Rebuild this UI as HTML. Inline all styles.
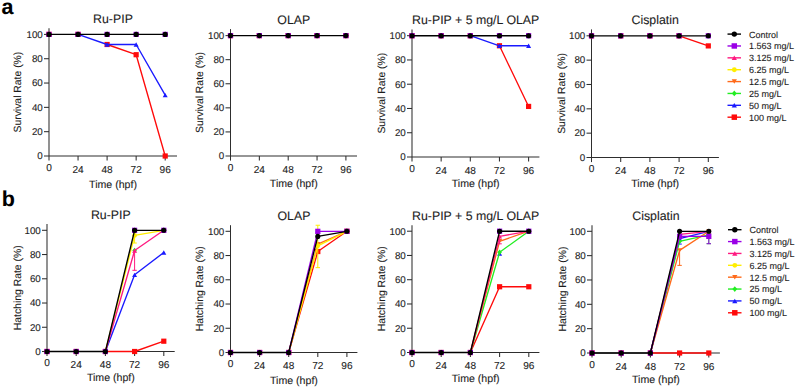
<!DOCTYPE html>
<html><head><meta charset="utf-8"><title>Survival and hatching rates</title>
<style>
html,body{margin:0;padding:0;background:#fff;}
body{width:798px;height:388px;overflow:hidden;}
svg{display:block;font-family:"Liberation Sans", sans-serif;text-rendering:geometricPrecision;}
text{stroke:#1c1c1c;stroke-width:0.1px;paint-order:stroke;}
</style></head>
<body>
<svg width="798" height="388" viewBox="0 0 798 388">
<rect width="798" height="388" fill="#fff"/>
<text x="1.5" y="13.7" font-size="21.5" font-weight="bold" fill="#000">a</text>
<text x="1.8" y="206.2" font-size="21.5" font-weight="bold" fill="#000">b</text>
<g stroke="#2e2e2e" stroke-width="1.05" fill="none">
<line x1="49.00" y1="28.20" x2="49.00" y2="160.60"/>
<line x1="44.00" y1="156.00" x2="177.00" y2="156.00"/>
<line x1="44.00" y1="131.68" x2="49.00" y2="131.68"/>
<line x1="44.00" y1="107.36" x2="49.00" y2="107.36"/>
<line x1="44.00" y1="83.04" x2="49.00" y2="83.04"/>
<line x1="44.00" y1="58.72" x2="49.00" y2="58.72"/>
<line x1="44.00" y1="34.40" x2="49.00" y2="34.40"/>
<line x1="78.05" y1="156.00" x2="78.05" y2="160.60"/>
<line x1="107.10" y1="156.00" x2="107.10" y2="160.60"/>
<line x1="136.15" y1="156.00" x2="136.15" y2="160.60"/>
<line x1="165.20" y1="156.00" x2="165.20" y2="160.60"/>
</g>
<g font-size="9.8" fill="#1c1c1c" text-anchor="end">
<text x="42.80" y="159.30">0</text>
<text x="42.80" y="134.98">20</text>
<text x="42.80" y="110.66">40</text>
<text x="42.80" y="86.34">60</text>
<text x="42.80" y="62.02">80</text>
<text x="42.80" y="37.70">100</text>
</g>
<g font-size="10.1" fill="#1c1c1c" text-anchor="middle">
<text x="49.00" y="170.70">0</text>
<text x="78.05" y="172.60">24</text>
<text x="107.10" y="172.60">48</text>
<text x="136.15" y="172.60">72</text>
<text x="165.20" y="172.60">96</text>
</g>
<text x="113.00" y="187.60" font-size="10.6" fill="#1c1c1c" text-anchor="middle">Time (hpf)</text>
<text transform="translate(21.00,92.10) rotate(-90)" font-size="10.4" fill="#1c1c1c" text-anchor="middle">Survival Rate (%)</text>
<text x="113.00" y="23.20" font-size="12.35" fill="#1c1c1c" text-anchor="middle">Ru-PIP</text>
<polyline points="107.10,44.49 136.15,54.71 165.20,156.00" fill="none" stroke="#ff0a0a" stroke-width="1.35" stroke-linejoin="round" stroke-linecap="round"/>
<rect x="46.40" y="31.80" width="5.20" height="5.20" fill="#ff0a0a"/>
<rect x="75.45" y="31.80" width="5.20" height="5.20" fill="#ff0a0a"/>
<rect x="104.50" y="41.89" width="5.20" height="5.20" fill="#ff0a0a"/>
<rect x="133.55" y="52.11" width="5.20" height="5.20" fill="#ff0a0a"/>
<rect x="162.60" y="153.40" width="5.20" height="5.20" fill="#ff0a0a"/>
<polyline points="78.05,34.40 107.10,44.49 136.15,44.49 165.20,95.20" fill="none" stroke="#1a1aff" stroke-width="1.35" stroke-linejoin="round" stroke-linecap="round"/>
<polygon points="49.00,32.25 51.50,36.55 46.50,36.55" fill="#1a1aff"/>
<polygon points="78.05,32.25 80.55,36.55 75.55,36.55" fill="#1a1aff"/>
<polygon points="107.10,42.34 109.60,46.64 104.60,46.64" fill="#1a1aff"/>
<polygon points="136.15,42.34 138.65,46.64 133.65,46.64" fill="#1a1aff"/>
<polygon points="165.20,93.05 167.70,97.35 162.70,97.35" fill="#1a1aff"/>
<polygon points="49.00,31.70 51.30,34.40 49.00,37.10 46.70,34.40" fill="#22ee22"/>
<polygon points="78.05,31.70 80.34,34.40 78.05,37.10 75.75,34.40" fill="#22ee22"/>
<polygon points="107.10,31.70 109.39,34.40 107.10,37.10 104.80,34.40" fill="#22ee22"/>
<polygon points="136.15,31.70 138.44,34.40 136.15,37.10 133.86,34.40" fill="#22ee22"/>
<polygon points="165.20,31.70 167.49,34.40 165.20,37.10 162.91,34.40" fill="#22ee22"/>
<polygon points="49.00,36.55 51.50,32.25 46.50,32.25" fill="#ff6a1a"/>
<polygon points="78.05,36.55 80.55,32.25 75.55,32.25" fill="#ff6a1a"/>
<polygon points="107.10,36.55 109.60,32.25 104.60,32.25" fill="#ff6a1a"/>
<polygon points="136.15,36.55 138.65,32.25 133.65,32.25" fill="#ff6a1a"/>
<polygon points="165.20,36.55 167.70,32.25 162.70,32.25" fill="#ff6a1a"/>
<circle cx="49.00" cy="34.40" r="2.30" fill="#ffee00"/>
<circle cx="78.05" cy="34.40" r="2.30" fill="#ffee00"/>
<circle cx="107.10" cy="34.40" r="2.30" fill="#ffee00"/>
<circle cx="136.15" cy="34.40" r="2.30" fill="#ffee00"/>
<circle cx="165.20" cy="34.40" r="2.30" fill="#ffee00"/>
<polygon points="49.00,32.25 51.50,36.55 46.50,36.55" fill="#ff1a80"/>
<polygon points="78.05,32.25 80.55,36.55 75.55,36.55" fill="#ff1a80"/>
<polygon points="107.10,32.25 109.60,36.55 104.60,36.55" fill="#ff1a80"/>
<polygon points="136.15,32.25 138.65,36.55 133.65,36.55" fill="#ff1a80"/>
<polygon points="165.20,32.25 167.70,36.55 162.70,36.55" fill="#ff1a80"/>
<rect x="46.40" y="31.80" width="5.20" height="5.20" fill="#9a00e6"/>
<rect x="75.45" y="31.80" width="5.20" height="5.20" fill="#9a00e6"/>
<rect x="104.50" y="31.80" width="5.20" height="5.20" fill="#9a00e6"/>
<rect x="133.55" y="31.80" width="5.20" height="5.20" fill="#9a00e6"/>
<rect x="162.60" y="31.80" width="5.20" height="5.20" fill="#9a00e6"/>
<polyline points="49.00,34.40 78.05,34.40 107.10,34.40 136.15,34.40 165.20,34.40" fill="none" stroke="#000000" stroke-width="1.35" stroke-linejoin="round" stroke-linecap="round"/>
<circle cx="49.00" cy="34.40" r="2.55" fill="#000000"/>
<circle cx="78.05" cy="34.40" r="2.55" fill="#000000"/>
<circle cx="107.10" cy="34.40" r="2.55" fill="#000000"/>
<circle cx="136.15" cy="34.40" r="2.55" fill="#000000"/>
<circle cx="165.20" cy="34.40" r="2.55" fill="#000000"/>
<g stroke="#2e2e2e" stroke-width="1.05" fill="none">
<line x1="230.50" y1="29.10" x2="230.50" y2="160.60"/>
<line x1="225.50" y1="156.00" x2="357.00" y2="156.00"/>
<line x1="225.50" y1="131.92" x2="230.50" y2="131.92"/>
<line x1="225.50" y1="107.84" x2="230.50" y2="107.84"/>
<line x1="225.50" y1="83.76" x2="230.50" y2="83.76"/>
<line x1="225.50" y1="59.68" x2="230.50" y2="59.68"/>
<line x1="225.50" y1="35.60" x2="230.50" y2="35.60"/>
<line x1="259.35" y1="156.00" x2="259.35" y2="160.60"/>
<line x1="288.20" y1="156.00" x2="288.20" y2="160.60"/>
<line x1="317.05" y1="156.00" x2="317.05" y2="160.60"/>
<line x1="345.90" y1="156.00" x2="345.90" y2="160.60"/>
</g>
<g font-size="9.8" fill="#1c1c1c" text-anchor="end">
<text x="224.30" y="159.30">0</text>
<text x="224.30" y="135.22">20</text>
<text x="224.30" y="111.14">40</text>
<text x="224.30" y="87.06">60</text>
<text x="224.30" y="62.98">80</text>
<text x="224.30" y="38.90">100</text>
</g>
<g font-size="10.1" fill="#1c1c1c" text-anchor="middle">
<text x="230.50" y="170.70">0</text>
<text x="259.35" y="172.60">24</text>
<text x="288.20" y="172.60">48</text>
<text x="317.05" y="172.60">72</text>
<text x="345.90" y="172.60">96</text>
</g>
<text x="293.75" y="186.90" font-size="10.6" fill="#1c1c1c" text-anchor="middle">Time (hpf)</text>
<text transform="translate(202.80,92.55) rotate(-90)" font-size="10.4" fill="#1c1c1c" text-anchor="middle">Survival Rate (%)</text>
<text x="293.75" y="24.20" font-size="12.35" fill="#1c1c1c" text-anchor="middle">OLAP</text>
<rect x="227.90" y="33.00" width="5.20" height="5.20" fill="#ff0a0a"/>
<rect x="256.75" y="33.00" width="5.20" height="5.20" fill="#ff0a0a"/>
<rect x="285.60" y="33.00" width="5.20" height="5.20" fill="#ff0a0a"/>
<rect x="314.45" y="33.00" width="5.20" height="5.20" fill="#ff0a0a"/>
<rect x="343.30" y="33.00" width="5.20" height="5.20" fill="#ff0a0a"/>
<polygon points="230.50,33.45 233.00,37.75 228.00,37.75" fill="#1a1aff"/>
<polygon points="259.35,33.45 261.85,37.75 256.85,37.75" fill="#1a1aff"/>
<polygon points="288.20,33.45 290.70,37.75 285.70,37.75" fill="#1a1aff"/>
<polygon points="317.05,33.45 319.55,37.75 314.55,37.75" fill="#1a1aff"/>
<polygon points="345.90,33.45 348.40,37.75 343.40,37.75" fill="#1a1aff"/>
<polygon points="230.50,32.90 232.79,35.60 230.50,38.30 228.21,35.60" fill="#22ee22"/>
<polygon points="259.35,32.90 261.65,35.60 259.35,38.30 257.06,35.60" fill="#22ee22"/>
<polygon points="288.20,32.90 290.50,35.60 288.20,38.30 285.90,35.60" fill="#22ee22"/>
<polygon points="317.05,32.90 319.35,35.60 317.05,38.30 314.75,35.60" fill="#22ee22"/>
<polygon points="345.90,32.90 348.19,35.60 345.90,38.30 343.60,35.60" fill="#22ee22"/>
<polygon points="230.50,37.75 233.00,33.45 228.00,33.45" fill="#ff6a1a"/>
<polygon points="259.35,37.75 261.85,33.45 256.85,33.45" fill="#ff6a1a"/>
<polygon points="288.20,37.75 290.70,33.45 285.70,33.45" fill="#ff6a1a"/>
<polygon points="317.05,37.75 319.55,33.45 314.55,33.45" fill="#ff6a1a"/>
<polygon points="345.90,37.75 348.40,33.45 343.40,33.45" fill="#ff6a1a"/>
<circle cx="230.50" cy="35.60" r="2.30" fill="#ffee00"/>
<circle cx="259.35" cy="35.60" r="2.30" fill="#ffee00"/>
<circle cx="288.20" cy="35.60" r="2.30" fill="#ffee00"/>
<circle cx="317.05" cy="35.60" r="2.30" fill="#ffee00"/>
<circle cx="345.90" cy="35.60" r="2.30" fill="#ffee00"/>
<polygon points="230.50,33.45 233.00,37.75 228.00,37.75" fill="#ff1a80"/>
<polygon points="259.35,33.45 261.85,37.75 256.85,37.75" fill="#ff1a80"/>
<polygon points="288.20,33.45 290.70,37.75 285.70,37.75" fill="#ff1a80"/>
<polygon points="317.05,33.45 319.55,37.75 314.55,37.75" fill="#ff1a80"/>
<polygon points="345.90,33.45 348.40,37.75 343.40,37.75" fill="#ff1a80"/>
<rect x="227.90" y="33.00" width="5.20" height="5.20" fill="#9a00e6"/>
<rect x="256.75" y="33.00" width="5.20" height="5.20" fill="#9a00e6"/>
<rect x="285.60" y="33.00" width="5.20" height="5.20" fill="#9a00e6"/>
<rect x="314.45" y="33.00" width="5.20" height="5.20" fill="#9a00e6"/>
<rect x="343.30" y="33.00" width="5.20" height="5.20" fill="#9a00e6"/>
<polyline points="230.50,35.60 259.35,35.60 288.20,35.60 317.05,35.60 345.90,35.60" fill="none" stroke="#000000" stroke-width="1.35" stroke-linejoin="round" stroke-linecap="round"/>
<circle cx="230.50" cy="35.60" r="2.55" fill="#000000"/>
<circle cx="259.35" cy="35.60" r="2.55" fill="#000000"/>
<circle cx="288.20" cy="35.60" r="2.55" fill="#000000"/>
<circle cx="317.05" cy="35.60" r="2.55" fill="#000000"/>
<circle cx="345.90" cy="35.60" r="2.55" fill="#000000"/>
<g stroke="#2e2e2e" stroke-width="1.05" fill="none">
<line x1="412.00" y1="29.40" x2="412.00" y2="161.60"/>
<line x1="407.00" y1="157.00" x2="539.40" y2="157.00"/>
<line x1="407.00" y1="132.74" x2="412.00" y2="132.74"/>
<line x1="407.00" y1="108.48" x2="412.00" y2="108.48"/>
<line x1="407.00" y1="84.22" x2="412.00" y2="84.22"/>
<line x1="407.00" y1="59.96" x2="412.00" y2="59.96"/>
<line x1="407.00" y1="35.70" x2="412.00" y2="35.70"/>
<line x1="441.15" y1="157.00" x2="441.15" y2="161.60"/>
<line x1="470.30" y1="157.00" x2="470.30" y2="161.60"/>
<line x1="499.45" y1="157.00" x2="499.45" y2="161.60"/>
<line x1="528.60" y1="157.00" x2="528.60" y2="161.60"/>
</g>
<g font-size="9.8" fill="#1c1c1c" text-anchor="end">
<text x="405.80" y="160.30">0</text>
<text x="405.80" y="136.04">20</text>
<text x="405.80" y="111.78">40</text>
<text x="405.80" y="87.52">60</text>
<text x="405.80" y="63.26">80</text>
<text x="405.80" y="39.00">100</text>
</g>
<g font-size="10.1" fill="#1c1c1c" text-anchor="middle">
<text x="412.00" y="171.70">0</text>
<text x="441.15" y="173.60">24</text>
<text x="470.30" y="173.60">48</text>
<text x="499.45" y="173.60">72</text>
<text x="528.60" y="173.60">96</text>
</g>
<text x="475.70" y="186.70" font-size="10.6" fill="#1c1c1c" text-anchor="middle">Time (hpf)</text>
<text transform="translate(384.80,93.20) rotate(-90)" font-size="10.4" fill="#1c1c1c" text-anchor="middle">Survival Rate (%)</text>
<text x="475.70" y="24.20" font-size="12.35" fill="#1c1c1c" text-anchor="middle">Ru-PIP + 5 mg/L OLAP</text>
<polyline points="499.45,45.77 528.60,106.42" fill="none" stroke="#ff0a0a" stroke-width="1.35" stroke-linejoin="round" stroke-linecap="round"/>
<rect x="409.40" y="33.10" width="5.20" height="5.20" fill="#ff0a0a"/>
<rect x="438.55" y="33.10" width="5.20" height="5.20" fill="#ff0a0a"/>
<rect x="467.70" y="33.10" width="5.20" height="5.20" fill="#ff0a0a"/>
<rect x="496.85" y="43.17" width="5.20" height="5.20" fill="#ff0a0a"/>
<rect x="526.00" y="103.82" width="5.20" height="5.20" fill="#ff0a0a"/>
<polyline points="470.30,35.70 499.45,45.77 528.60,45.77" fill="none" stroke="#1a1aff" stroke-width="1.35" stroke-linejoin="round" stroke-linecap="round"/>
<polygon points="412.00,33.55 414.50,37.85 409.50,37.85" fill="#1a1aff"/>
<polygon points="441.15,33.55 443.65,37.85 438.65,37.85" fill="#1a1aff"/>
<polygon points="470.30,33.55 472.80,37.85 467.80,37.85" fill="#1a1aff"/>
<polygon points="499.45,43.62 501.95,47.92 496.95,47.92" fill="#1a1aff"/>
<polygon points="528.60,43.62 531.10,47.92 526.10,47.92" fill="#1a1aff"/>
<polygon points="412.00,33.00 414.30,35.70 412.00,38.40 409.70,35.70" fill="#22ee22"/>
<polygon points="441.15,33.00 443.44,35.70 441.15,38.40 438.85,35.70" fill="#22ee22"/>
<polygon points="470.30,33.00 472.60,35.70 470.30,38.40 468.00,35.70" fill="#22ee22"/>
<polygon points="499.45,33.00 501.75,35.70 499.45,38.40 497.15,35.70" fill="#22ee22"/>
<polygon points="528.60,33.00 530.89,35.70 528.60,38.40 526.31,35.70" fill="#22ee22"/>
<polygon points="412.00,37.85 414.50,33.55 409.50,33.55" fill="#ff6a1a"/>
<polygon points="441.15,37.85 443.65,33.55 438.65,33.55" fill="#ff6a1a"/>
<polygon points="470.30,37.85 472.80,33.55 467.80,33.55" fill="#ff6a1a"/>
<polygon points="499.45,37.85 501.95,33.55 496.95,33.55" fill="#ff6a1a"/>
<polygon points="528.60,37.85 531.10,33.55 526.10,33.55" fill="#ff6a1a"/>
<circle cx="412.00" cy="35.70" r="2.30" fill="#ffee00"/>
<circle cx="441.15" cy="35.70" r="2.30" fill="#ffee00"/>
<circle cx="470.30" cy="35.70" r="2.30" fill="#ffee00"/>
<circle cx="499.45" cy="35.70" r="2.30" fill="#ffee00"/>
<circle cx="528.60" cy="35.70" r="2.30" fill="#ffee00"/>
<polygon points="412.00,33.55 414.50,37.85 409.50,37.85" fill="#ff1a80"/>
<polygon points="441.15,33.55 443.65,37.85 438.65,37.85" fill="#ff1a80"/>
<polygon points="470.30,33.55 472.80,37.85 467.80,37.85" fill="#ff1a80"/>
<polygon points="499.45,33.55 501.95,37.85 496.95,37.85" fill="#ff1a80"/>
<polygon points="528.60,33.55 531.10,37.85 526.10,37.85" fill="#ff1a80"/>
<rect x="409.40" y="33.10" width="5.20" height="5.20" fill="#9a00e6"/>
<rect x="438.55" y="33.10" width="5.20" height="5.20" fill="#9a00e6"/>
<rect x="467.70" y="33.10" width="5.20" height="5.20" fill="#9a00e6"/>
<rect x="496.85" y="33.10" width="5.20" height="5.20" fill="#9a00e6"/>
<rect x="526.00" y="33.10" width="5.20" height="5.20" fill="#9a00e6"/>
<polyline points="412.00,35.70 441.15,35.70 470.30,35.70 499.45,35.70 528.60,35.70" fill="none" stroke="#000000" stroke-width="1.35" stroke-linejoin="round" stroke-linecap="round"/>
<circle cx="412.00" cy="35.70" r="2.55" fill="#000000"/>
<circle cx="441.15" cy="35.70" r="2.55" fill="#000000"/>
<circle cx="470.30" cy="35.70" r="2.55" fill="#000000"/>
<circle cx="499.45" cy="35.70" r="2.55" fill="#000000"/>
<circle cx="528.60" cy="35.70" r="2.55" fill="#000000"/>
<g stroke="#2e2e2e" stroke-width="1.05" fill="none">
<line x1="591.50" y1="29.40" x2="591.50" y2="162.10"/>
<line x1="586.50" y1="157.50" x2="718.90" y2="157.50"/>
<line x1="586.50" y1="133.16" x2="591.50" y2="133.16"/>
<line x1="586.50" y1="108.82" x2="591.50" y2="108.82"/>
<line x1="586.50" y1="84.48" x2="591.50" y2="84.48"/>
<line x1="586.50" y1="60.14" x2="591.50" y2="60.14"/>
<line x1="586.50" y1="35.80" x2="591.50" y2="35.80"/>
<line x1="620.70" y1="157.50" x2="620.70" y2="162.10"/>
<line x1="649.90" y1="157.50" x2="649.90" y2="162.10"/>
<line x1="679.10" y1="157.50" x2="679.10" y2="162.10"/>
<line x1="708.30" y1="157.50" x2="708.30" y2="162.10"/>
</g>
<g font-size="9.8" fill="#1c1c1c" text-anchor="end">
<text x="585.30" y="160.80">0</text>
<text x="585.30" y="136.46">20</text>
<text x="585.30" y="112.12">40</text>
<text x="585.30" y="87.78">60</text>
<text x="585.30" y="63.44">80</text>
<text x="585.30" y="39.10">100</text>
</g>
<g font-size="10.1" fill="#1c1c1c" text-anchor="middle">
<text x="591.50" y="172.20">0</text>
<text x="620.70" y="174.10">24</text>
<text x="649.90" y="174.10">48</text>
<text x="679.10" y="174.10">72</text>
<text x="708.30" y="174.10">96</text>
</g>
<text x="655.20" y="187.20" font-size="10.6" fill="#1c1c1c" text-anchor="middle">Time (hpf)</text>
<text transform="translate(564.80,93.45) rotate(-90)" font-size="10.4" fill="#1c1c1c" text-anchor="middle">Survival Rate (%)</text>
<text x="655.20" y="24.20" font-size="12.35" fill="#1c1c1c" text-anchor="middle">Cisplatin</text>
<polyline points="679.10,35.80 708.30,45.90" fill="none" stroke="#ff0a0a" stroke-width="1.35" stroke-linejoin="round" stroke-linecap="round"/>
<rect x="588.90" y="33.20" width="5.20" height="5.20" fill="#ff0a0a"/>
<rect x="618.10" y="33.20" width="5.20" height="5.20" fill="#ff0a0a"/>
<rect x="647.30" y="33.20" width="5.20" height="5.20" fill="#ff0a0a"/>
<rect x="676.50" y="33.20" width="5.20" height="5.20" fill="#ff0a0a"/>
<rect x="705.70" y="43.30" width="5.20" height="5.20" fill="#ff0a0a"/>
<polygon points="591.50,33.65 594.00,37.95 589.00,37.95" fill="#1a1aff"/>
<polygon points="620.70,33.65 623.20,37.95 618.20,37.95" fill="#1a1aff"/>
<polygon points="649.90,33.65 652.40,37.95 647.40,37.95" fill="#1a1aff"/>
<polygon points="679.10,33.65 681.60,37.95 676.60,37.95" fill="#1a1aff"/>
<polygon points="708.30,33.65 710.80,37.95 705.80,37.95" fill="#1a1aff"/>
<polygon points="591.50,33.10 593.79,35.80 591.50,38.50 589.21,35.80" fill="#22ee22"/>
<polygon points="620.70,33.10 623.00,35.80 620.70,38.50 618.41,35.80" fill="#22ee22"/>
<polygon points="649.90,33.10 652.19,35.80 649.90,38.50 647.61,35.80" fill="#22ee22"/>
<polygon points="679.10,33.10 681.39,35.80 679.10,38.50 676.81,35.80" fill="#22ee22"/>
<polygon points="708.30,33.10 710.59,35.80 708.30,38.50 706.00,35.80" fill="#22ee22"/>
<polygon points="591.50,37.95 594.00,33.65 589.00,33.65" fill="#ff6a1a"/>
<polygon points="620.70,37.95 623.20,33.65 618.20,33.65" fill="#ff6a1a"/>
<polygon points="649.90,37.95 652.40,33.65 647.40,33.65" fill="#ff6a1a"/>
<polygon points="679.10,37.95 681.60,33.65 676.60,33.65" fill="#ff6a1a"/>
<polygon points="708.30,37.95 710.80,33.65 705.80,33.65" fill="#ff6a1a"/>
<circle cx="591.50" cy="35.80" r="2.30" fill="#ffee00"/>
<circle cx="620.70" cy="35.80" r="2.30" fill="#ffee00"/>
<circle cx="649.90" cy="35.80" r="2.30" fill="#ffee00"/>
<circle cx="679.10" cy="35.80" r="2.30" fill="#ffee00"/>
<circle cx="708.30" cy="35.80" r="2.30" fill="#ffee00"/>
<polygon points="591.50,33.65 594.00,37.95 589.00,37.95" fill="#ff1a80"/>
<polygon points="620.70,33.65 623.20,37.95 618.20,37.95" fill="#ff1a80"/>
<polygon points="649.90,33.65 652.40,37.95 647.40,37.95" fill="#ff1a80"/>
<polygon points="679.10,33.65 681.60,37.95 676.60,37.95" fill="#ff1a80"/>
<polygon points="708.30,33.65 710.80,37.95 705.80,37.95" fill="#ff1a80"/>
<rect x="588.90" y="33.20" width="5.20" height="5.20" fill="#9a00e6"/>
<rect x="618.10" y="33.20" width="5.20" height="5.20" fill="#9a00e6"/>
<rect x="647.30" y="33.20" width="5.20" height="5.20" fill="#9a00e6"/>
<rect x="676.50" y="33.20" width="5.20" height="5.20" fill="#9a00e6"/>
<rect x="705.70" y="33.20" width="5.20" height="5.20" fill="#9a00e6"/>
<polyline points="591.50,35.80 620.70,35.80 649.90,35.80 679.10,35.80 708.30,35.80" fill="none" stroke="#000000" stroke-width="1.35" stroke-linejoin="round" stroke-linecap="round"/>
<circle cx="591.50" cy="35.80" r="2.55" fill="#000000"/>
<circle cx="620.70" cy="35.80" r="2.55" fill="#000000"/>
<circle cx="649.90" cy="35.80" r="2.55" fill="#000000"/>
<circle cx="679.10" cy="35.80" r="2.55" fill="#000000"/>
<circle cx="708.30" cy="35.80" r="2.55" fill="#000000"/>
<line x1="727.50" y1="34.10" x2="741.00" y2="34.10" stroke="#000000" stroke-width="1.4"/>
<circle cx="734.30" cy="34.10" r="2.68" fill="#000000"/>
<text x="749.10" y="37.50" font-size="9" fill="#1c1c1c">Control</text>
<line x1="727.50" y1="45.97" x2="741.00" y2="45.97" stroke="#9a00e6" stroke-width="1.4"/>
<rect x="731.57" y="43.24" width="5.46" height="5.46" fill="#9a00e6"/>
<text x="749.10" y="49.37" font-size="9" fill="#1c1c1c">1.563 mg/L</text>
<line x1="727.50" y1="57.84" x2="741.00" y2="57.84" stroke="#ff1a80" stroke-width="1.4"/>
<polygon points="734.30,55.58 736.92,60.10 731.67,60.10" fill="#ff1a80"/>
<text x="749.10" y="61.24" font-size="9" fill="#1c1c1c">3.125 mg/L</text>
<line x1="727.50" y1="69.71" x2="741.00" y2="69.71" stroke="#ffee00" stroke-width="1.4"/>
<circle cx="734.30" cy="69.71" r="2.42" fill="#ffee00"/>
<text x="749.10" y="73.11" font-size="9" fill="#1c1c1c">6.25 mg/L</text>
<line x1="727.50" y1="81.58" x2="741.00" y2="81.58" stroke="#ff6a1a" stroke-width="1.4"/>
<polygon points="734.30,83.84 736.92,79.32 731.67,79.32" fill="#ff6a1a"/>
<text x="749.10" y="84.98" font-size="9" fill="#1c1c1c">12.5 mg/L</text>
<line x1="727.50" y1="93.45" x2="741.00" y2="93.45" stroke="#22ee22" stroke-width="1.4"/>
<polygon points="734.30,90.61 736.71,93.45 734.30,96.28 731.89,93.45" fill="#22ee22"/>
<text x="749.10" y="96.85" font-size="9" fill="#1c1c1c">25 mg/L</text>
<line x1="727.50" y1="105.32" x2="741.00" y2="105.32" stroke="#1a1aff" stroke-width="1.4"/>
<polygon points="734.30,103.06 736.92,107.58 731.67,107.58" fill="#1a1aff"/>
<text x="749.10" y="108.72" font-size="9" fill="#1c1c1c">50 mg/L</text>
<line x1="727.50" y1="117.19" x2="741.00" y2="117.19" stroke="#ff0a0a" stroke-width="1.4"/>
<rect x="731.57" y="114.46" width="5.46" height="5.46" fill="#ff0a0a"/>
<text x="749.10" y="120.59" font-size="9" fill="#1c1c1c">100 mg/L</text>
<g stroke="#2e2e2e" stroke-width="1.05" fill="none">
<line x1="47.00" y1="224.10" x2="47.00" y2="356.10"/>
<line x1="42.00" y1="351.50" x2="174.70" y2="351.50"/>
<line x1="42.00" y1="327.26" x2="47.00" y2="327.26"/>
<line x1="42.00" y1="303.02" x2="47.00" y2="303.02"/>
<line x1="42.00" y1="278.78" x2="47.00" y2="278.78"/>
<line x1="42.00" y1="254.54" x2="47.00" y2="254.54"/>
<line x1="42.00" y1="230.30" x2="47.00" y2="230.30"/>
<line x1="76.20" y1="351.50" x2="76.20" y2="356.10"/>
<line x1="105.40" y1="351.50" x2="105.40" y2="356.10"/>
<line x1="134.60" y1="351.50" x2="134.60" y2="356.10"/>
<line x1="163.80" y1="351.50" x2="163.80" y2="356.10"/>
</g>
<g font-size="9.8" fill="#1c1c1c" text-anchor="end">
<text x="40.80" y="354.80">0</text>
<text x="40.80" y="330.56">20</text>
<text x="40.80" y="306.32">40</text>
<text x="40.80" y="282.08">60</text>
<text x="40.80" y="257.84">80</text>
<text x="40.80" y="233.60">100</text>
</g>
<g font-size="10.1" fill="#1c1c1c" text-anchor="middle">
<text x="47.00" y="366.20">0</text>
<text x="76.20" y="368.10">24</text>
<text x="105.40" y="368.10">48</text>
<text x="134.60" y="368.10">72</text>
<text x="163.80" y="368.10">96</text>
</g>
<text x="110.85" y="381.20" font-size="10.6" fill="#1c1c1c" text-anchor="middle">Time (hpf)</text>
<text transform="translate(20.80,287.80) rotate(-90)" font-size="10.4" fill="#1c1c1c" text-anchor="middle">Hatching Rate (%)</text>
<text x="110.85" y="218.80" font-size="12.35" fill="#1c1c1c" text-anchor="middle">Ru-PIP</text>
<polyline points="105.40,351.50 134.60,351.50 163.80,341.20" fill="none" stroke="#ff0a0a" stroke-width="1.35" stroke-linejoin="round" stroke-linecap="round"/>
<rect x="44.40" y="348.90" width="5.20" height="5.20" fill="#ff0a0a"/>
<rect x="73.60" y="348.90" width="5.20" height="5.20" fill="#ff0a0a"/>
<rect x="102.80" y="348.90" width="5.20" height="5.20" fill="#ff0a0a"/>
<rect x="132.00" y="348.90" width="5.20" height="5.20" fill="#ff0a0a"/>
<rect x="161.20" y="338.60" width="5.20" height="5.20" fill="#ff0a0a"/>
<polyline points="105.40,351.50 134.60,274.78 163.80,252.48" fill="none" stroke="#1a1aff" stroke-width="1.35" stroke-linejoin="round" stroke-linecap="round"/>
<polygon points="47.00,349.35 49.50,353.65 44.50,353.65" fill="#1a1aff"/>
<polygon points="76.20,349.35 78.70,353.65 73.70,353.65" fill="#1a1aff"/>
<polygon points="105.40,349.35 107.90,353.65 102.90,353.65" fill="#1a1aff"/>
<polygon points="134.60,272.63 137.10,276.93 132.10,276.93" fill="#1a1aff"/>
<polygon points="163.80,250.33 166.30,254.63 161.30,254.63" fill="#1a1aff"/>
<polygon points="47.00,348.80 49.30,351.50 47.00,354.20 44.70,351.50" fill="#22ee22"/>
<polygon points="76.20,348.80 78.50,351.50 76.20,354.20 73.91,351.50" fill="#22ee22"/>
<polygon points="105.40,348.80 107.70,351.50 105.40,354.20 103.11,351.50" fill="#22ee22"/>
<polygon points="134.60,247.84 136.89,250.54 134.60,253.24 132.31,250.54" fill="#22ee22"/>
<polygon points="163.80,227.60 166.09,230.30 163.80,233.00 161.51,230.30" fill="#22ee22"/>
<polygon points="47.00,353.65 49.50,349.35 44.50,349.35" fill="#ff6a1a"/>
<polygon points="76.20,353.65 78.70,349.35 73.70,349.35" fill="#ff6a1a"/>
<polygon points="105.40,353.65 107.90,349.35 102.90,349.35" fill="#ff6a1a"/>
<polygon points="134.60,232.45 137.10,228.15 132.10,228.15" fill="#ff6a1a"/>
<polygon points="163.80,232.45 166.30,228.15 161.30,228.15" fill="#ff6a1a"/>
<g stroke="#ffee00" stroke-width="1"><line x1="134.60" y1="235.39" x2="134.60" y2="243.03"/><line x1="132.40" y1="243.03" x2="136.80" y2="243.03"/></g>
<polyline points="105.40,351.50 134.60,235.39 163.80,230.30" fill="none" stroke="#ffee00" stroke-width="1.35" stroke-linejoin="round" stroke-linecap="round"/>
<circle cx="47.00" cy="351.50" r="2.30" fill="#ffee00"/>
<circle cx="76.20" cy="351.50" r="2.30" fill="#ffee00"/>
<circle cx="105.40" cy="351.50" r="2.30" fill="#ffee00"/>
<circle cx="134.60" cy="235.39" r="2.30" fill="#ffee00"/>
<circle cx="163.80" cy="230.30" r="2.30" fill="#ffee00"/>
<g stroke="#ff1a80" stroke-width="1"><line x1="134.60" y1="250.54" x2="134.60" y2="270.30"/><line x1="132.40" y1="270.30" x2="136.80" y2="270.30"/></g>
<polyline points="105.40,351.50 134.60,250.54 163.80,230.30" fill="none" stroke="#ff1a80" stroke-width="1.35" stroke-linejoin="round" stroke-linecap="round"/>
<polygon points="47.00,349.35 49.50,353.65 44.50,353.65" fill="#ff1a80"/>
<polygon points="76.20,349.35 78.70,353.65 73.70,353.65" fill="#ff1a80"/>
<polygon points="105.40,349.35 107.90,353.65 102.90,353.65" fill="#ff1a80"/>
<polygon points="134.60,248.39 137.10,252.69 132.10,252.69" fill="#ff1a80"/>
<polygon points="163.80,228.15 166.30,232.45 161.30,232.45" fill="#ff1a80"/>
<rect x="44.40" y="348.90" width="5.20" height="5.20" fill="#9a00e6"/>
<rect x="73.60" y="348.90" width="5.20" height="5.20" fill="#9a00e6"/>
<rect x="102.80" y="348.90" width="5.20" height="5.20" fill="#9a00e6"/>
<rect x="132.00" y="227.70" width="5.20" height="5.20" fill="#9a00e6"/>
<rect x="161.20" y="227.70" width="5.20" height="5.20" fill="#9a00e6"/>
<polyline points="47.00,351.50 76.20,351.50 105.40,351.50 134.60,230.30 163.80,230.30" fill="none" stroke="#000000" stroke-width="1.35" stroke-linejoin="round" stroke-linecap="round"/>
<circle cx="47.00" cy="351.50" r="2.55" fill="#000000"/>
<circle cx="76.20" cy="351.50" r="2.55" fill="#000000"/>
<circle cx="105.40" cy="351.50" r="2.55" fill="#000000"/>
<circle cx="134.60" cy="230.30" r="2.55" fill="#000000"/>
<circle cx="163.80" cy="230.30" r="2.55" fill="#000000"/>
<g stroke="#2e2e2e" stroke-width="1.05" fill="none">
<line x1="230.50" y1="225.20" x2="230.50" y2="357.10"/>
<line x1="225.50" y1="352.50" x2="357.40" y2="352.50"/>
<line x1="225.50" y1="328.26" x2="230.50" y2="328.26"/>
<line x1="225.50" y1="304.02" x2="230.50" y2="304.02"/>
<line x1="225.50" y1="279.78" x2="230.50" y2="279.78"/>
<line x1="225.50" y1="255.54" x2="230.50" y2="255.54"/>
<line x1="225.50" y1="231.30" x2="230.50" y2="231.30"/>
<line x1="259.60" y1="352.50" x2="259.60" y2="357.10"/>
<line x1="288.70" y1="352.50" x2="288.70" y2="357.10"/>
<line x1="317.80" y1="352.50" x2="317.80" y2="357.10"/>
<line x1="346.90" y1="352.50" x2="346.90" y2="357.10"/>
</g>
<g font-size="9.8" fill="#1c1c1c" text-anchor="end">
<text x="224.30" y="355.80">0</text>
<text x="224.30" y="331.56">20</text>
<text x="224.30" y="307.32">40</text>
<text x="224.30" y="283.08">60</text>
<text x="224.30" y="258.84">80</text>
<text x="224.30" y="234.60">100</text>
</g>
<g font-size="10.1" fill="#1c1c1c" text-anchor="middle">
<text x="230.50" y="367.20">0</text>
<text x="259.60" y="369.10">24</text>
<text x="288.70" y="369.10">48</text>
<text x="317.80" y="369.10">72</text>
<text x="346.90" y="369.10">96</text>
</g>
<text x="293.95" y="383.50" font-size="10.6" fill="#1c1c1c" text-anchor="middle">Time (hpf)</text>
<text transform="translate(202.80,288.85) rotate(-90)" font-size="10.4" fill="#1c1c1c" text-anchor="middle">Hatching Rate (%)</text>
<text x="293.95" y="219.80" font-size="12.35" fill="#1c1c1c" text-anchor="middle">OLAP</text>
<polyline points="288.70,352.50 317.80,251.54 346.90,231.30" fill="none" stroke="#ff0a0a" stroke-width="1.35" stroke-linejoin="round" stroke-linecap="round"/>
<rect x="227.90" y="349.90" width="5.20" height="5.20" fill="#ff0a0a"/>
<rect x="257.00" y="349.90" width="5.20" height="5.20" fill="#ff0a0a"/>
<rect x="286.10" y="349.90" width="5.20" height="5.20" fill="#ff0a0a"/>
<rect x="315.20" y="248.94" width="5.20" height="5.20" fill="#ff0a0a"/>
<rect x="344.30" y="228.70" width="5.20" height="5.20" fill="#ff0a0a"/>
<polygon points="230.50,350.35 233.00,354.65 228.00,354.65" fill="#1a1aff"/>
<polygon points="259.60,350.35 262.10,354.65 257.10,354.65" fill="#1a1aff"/>
<polygon points="288.70,350.35 291.20,354.65 286.20,354.65" fill="#1a1aff"/>
<polygon points="317.80,229.15 320.30,233.45 315.30,233.45" fill="#1a1aff"/>
<polygon points="346.90,229.15 349.40,233.45 344.40,233.45" fill="#1a1aff"/>
<polygon points="230.50,349.80 232.79,352.50 230.50,355.20 228.21,352.50" fill="#22ee22"/>
<polygon points="259.60,349.80 261.90,352.50 259.60,355.20 257.31,352.50" fill="#22ee22"/>
<polygon points="288.70,349.80 291.00,352.50 288.70,355.20 286.40,352.50" fill="#22ee22"/>
<polygon points="317.80,228.60 320.10,231.30 317.80,234.00 315.50,231.30" fill="#22ee22"/>
<polygon points="346.90,228.60 349.19,231.30 346.90,234.00 344.60,231.30" fill="#22ee22"/>
<polyline points="288.70,352.50 317.80,244.03 346.90,231.30" fill="none" stroke="#ff6a1a" stroke-width="1.35" stroke-linejoin="round" stroke-linecap="round"/>
<polygon points="230.50,354.65 233.00,350.35 228.00,350.35" fill="#ff6a1a"/>
<polygon points="259.60,354.65 262.10,350.35 257.10,350.35" fill="#ff6a1a"/>
<polygon points="288.70,354.65 291.20,350.35 286.20,350.35" fill="#ff6a1a"/>
<polygon points="317.80,246.18 320.30,241.88 315.30,241.88" fill="#ff6a1a"/>
<polygon points="346.90,233.45 349.40,229.15 344.40,229.15" fill="#ff6a1a"/>
<g stroke="#ffee00" stroke-width="1"><line x1="317.80" y1="225.24" x2="317.80" y2="267.66"/><line x1="315.60" y1="267.66" x2="320.00" y2="267.66"/><line x1="315.60" y1="225.24" x2="320.00" y2="225.24"/></g>
<polyline points="288.70,352.50 317.80,245.84 346.90,231.30" fill="none" stroke="#ffee00" stroke-width="1.35" stroke-linejoin="round" stroke-linecap="round"/>
<circle cx="230.50" cy="352.50" r="2.30" fill="#ffee00"/>
<circle cx="259.60" cy="352.50" r="2.30" fill="#ffee00"/>
<circle cx="288.70" cy="352.50" r="2.30" fill="#ffee00"/>
<circle cx="317.80" cy="245.84" r="2.30" fill="#ffee00"/>
<circle cx="346.90" cy="231.30" r="2.30" fill="#ffee00"/>
<polygon points="230.50,350.35 233.00,354.65 228.00,354.65" fill="#ff1a80"/>
<polygon points="259.60,350.35 262.10,354.65 257.10,354.65" fill="#ff1a80"/>
<polygon points="288.70,350.35 291.20,354.65 286.20,354.65" fill="#ff1a80"/>
<polygon points="317.80,229.15 320.30,233.45 315.30,233.45" fill="#ff1a80"/>
<polygon points="346.90,229.15 349.40,233.45 344.40,233.45" fill="#ff1a80"/>
<polyline points="288.70,352.50 317.80,231.30 346.90,231.30" fill="none" stroke="#9a00e6" stroke-width="1.35" stroke-linejoin="round" stroke-linecap="round"/>
<rect x="227.90" y="349.90" width="5.20" height="5.20" fill="#9a00e6"/>
<rect x="257.00" y="349.90" width="5.20" height="5.20" fill="#9a00e6"/>
<rect x="286.10" y="349.90" width="5.20" height="5.20" fill="#9a00e6"/>
<rect x="315.20" y="228.70" width="5.20" height="5.20" fill="#9a00e6"/>
<rect x="344.30" y="228.70" width="5.20" height="5.20" fill="#9a00e6"/>
<polyline points="230.50,352.50 259.60,352.50 288.70,352.50 317.80,236.39 346.90,231.30" fill="none" stroke="#000000" stroke-width="1.35" stroke-linejoin="round" stroke-linecap="round"/>
<circle cx="230.50" cy="352.50" r="2.55" fill="#000000"/>
<circle cx="259.60" cy="352.50" r="2.55" fill="#000000"/>
<circle cx="288.70" cy="352.50" r="2.55" fill="#000000"/>
<circle cx="317.80" cy="236.39" r="2.55" fill="#000000"/>
<circle cx="346.90" cy="231.30" r="2.55" fill="#000000"/>
<g stroke="#2e2e2e" stroke-width="1.05" fill="none">
<line x1="412.00" y1="225.20" x2="412.00" y2="357.10"/>
<line x1="407.00" y1="352.50" x2="539.40" y2="352.50"/>
<line x1="407.00" y1="328.24" x2="412.00" y2="328.24"/>
<line x1="407.00" y1="303.98" x2="412.00" y2="303.98"/>
<line x1="407.00" y1="279.72" x2="412.00" y2="279.72"/>
<line x1="407.00" y1="255.46" x2="412.00" y2="255.46"/>
<line x1="407.00" y1="231.20" x2="412.00" y2="231.20"/>
<line x1="441.20" y1="352.50" x2="441.20" y2="357.10"/>
<line x1="470.40" y1="352.50" x2="470.40" y2="357.10"/>
<line x1="499.60" y1="352.50" x2="499.60" y2="357.10"/>
<line x1="528.80" y1="352.50" x2="528.80" y2="357.10"/>
</g>
<g font-size="9.8" fill="#1c1c1c" text-anchor="end">
<text x="405.80" y="355.80">0</text>
<text x="405.80" y="331.54">20</text>
<text x="405.80" y="307.28">40</text>
<text x="405.80" y="283.02">60</text>
<text x="405.80" y="258.76">80</text>
<text x="405.80" y="234.50">100</text>
</g>
<g font-size="10.1" fill="#1c1c1c" text-anchor="middle">
<text x="412.00" y="367.20">0</text>
<text x="441.20" y="369.10">24</text>
<text x="470.40" y="369.10">48</text>
<text x="499.60" y="369.10">72</text>
<text x="528.80" y="369.10">96</text>
</g>
<text x="475.70" y="382.00" font-size="10.6" fill="#1c1c1c" text-anchor="middle">Time (hpf)</text>
<text transform="translate(384.80,288.85) rotate(-90)" font-size="10.4" fill="#1c1c1c" text-anchor="middle">Hatching Rate (%)</text>
<text x="475.70" y="219.80" font-size="12.35" fill="#1c1c1c" text-anchor="middle">Ru-PIP + 5 mg/L OLAP</text>
<polyline points="470.40,352.50 499.60,286.76 528.80,286.76" fill="none" stroke="#ff0a0a" stroke-width="1.35" stroke-linejoin="round" stroke-linecap="round"/>
<rect x="409.40" y="349.90" width="5.20" height="5.20" fill="#ff0a0a"/>
<rect x="438.60" y="349.90" width="5.20" height="5.20" fill="#ff0a0a"/>
<rect x="467.80" y="349.90" width="5.20" height="5.20" fill="#ff0a0a"/>
<rect x="497.00" y="284.16" width="5.20" height="5.20" fill="#ff0a0a"/>
<rect x="526.20" y="284.16" width="5.20" height="5.20" fill="#ff0a0a"/>
<polygon points="412.00,350.35 414.50,354.65 409.50,354.65" fill="#1a1aff"/>
<polygon points="441.20,350.35 443.70,354.65 438.70,354.65" fill="#1a1aff"/>
<polygon points="470.40,350.35 472.90,354.65 467.90,354.65" fill="#1a1aff"/>
<polygon points="499.60,251.37 502.10,255.67 497.10,255.67" fill="#1a1aff"/>
<polygon points="528.80,229.05 531.30,233.35 526.30,233.35" fill="#1a1aff"/>
<polyline points="470.40,352.50 499.60,252.31 528.80,231.20" fill="none" stroke="#22ee22" stroke-width="1.35" stroke-linejoin="round" stroke-linecap="round"/>
<polygon points="412.00,349.80 414.30,352.50 412.00,355.20 409.70,352.50" fill="#22ee22"/>
<polygon points="441.20,349.80 443.50,352.50 441.20,355.20 438.90,352.50" fill="#22ee22"/>
<polygon points="470.40,349.80 472.69,352.50 470.40,355.20 468.10,352.50" fill="#22ee22"/>
<polygon points="499.60,249.61 501.90,252.31 499.60,255.01 497.31,252.31" fill="#22ee22"/>
<polygon points="528.80,228.50 531.09,231.20 528.80,233.90 526.50,231.20" fill="#22ee22"/>
<polyline points="470.40,352.50 499.60,241.27 528.80,231.20" fill="none" stroke="#ff6a1a" stroke-width="1.35" stroke-linejoin="round" stroke-linecap="round"/>
<polygon points="412.00,354.65 414.50,350.35 409.50,350.35" fill="#ff6a1a"/>
<polygon points="441.20,354.65 443.70,350.35 438.70,350.35" fill="#ff6a1a"/>
<polygon points="470.40,354.65 472.90,350.35 467.90,350.35" fill="#ff6a1a"/>
<polygon points="499.60,243.42 502.10,239.12 497.10,239.12" fill="#ff6a1a"/>
<polygon points="528.80,233.35 531.30,229.05 526.30,229.05" fill="#ff6a1a"/>
<circle cx="412.00" cy="352.50" r="2.30" fill="#ffee00"/>
<circle cx="441.20" cy="352.50" r="2.30" fill="#ffee00"/>
<circle cx="470.40" cy="352.50" r="2.30" fill="#ffee00"/>
<circle cx="499.60" cy="231.20" r="2.30" fill="#ffee00"/>
<circle cx="528.80" cy="231.20" r="2.30" fill="#ffee00"/>
<g stroke="#ff1a80" stroke-width="1"><line x1="499.60" y1="236.29" x2="499.60" y2="243.82"/><line x1="497.40" y1="243.82" x2="501.80" y2="243.82"/></g>
<polyline points="470.40,352.50 499.60,236.29 528.80,231.20" fill="none" stroke="#ff1a80" stroke-width="1.35" stroke-linejoin="round" stroke-linecap="round"/>
<polygon points="412.00,350.35 414.50,354.65 409.50,354.65" fill="#ff1a80"/>
<polygon points="441.20,350.35 443.70,354.65 438.70,354.65" fill="#ff1a80"/>
<polygon points="470.40,350.35 472.90,354.65 467.90,354.65" fill="#ff1a80"/>
<polygon points="499.60,234.14 502.10,238.44 497.10,238.44" fill="#ff1a80"/>
<polygon points="528.80,229.05 531.30,233.35 526.30,233.35" fill="#ff1a80"/>
<rect x="409.40" y="349.90" width="5.20" height="5.20" fill="#9a00e6"/>
<rect x="438.60" y="349.90" width="5.20" height="5.20" fill="#9a00e6"/>
<rect x="467.80" y="349.90" width="5.20" height="5.20" fill="#9a00e6"/>
<rect x="497.00" y="228.60" width="5.20" height="5.20" fill="#9a00e6"/>
<rect x="526.20" y="228.60" width="5.20" height="5.20" fill="#9a00e6"/>
<polyline points="412.00,352.50 441.20,352.50 470.40,352.50 499.60,231.20 528.80,231.20" fill="none" stroke="#000000" stroke-width="1.35" stroke-linejoin="round" stroke-linecap="round"/>
<circle cx="412.00" cy="352.50" r="2.55" fill="#000000"/>
<circle cx="441.20" cy="352.50" r="2.55" fill="#000000"/>
<circle cx="470.40" cy="352.50" r="2.55" fill="#000000"/>
<circle cx="499.60" cy="231.20" r="2.55" fill="#000000"/>
<circle cx="528.80" cy="231.20" r="2.55" fill="#000000"/>
<g stroke="#2e2e2e" stroke-width="1.05" fill="none">
<line x1="592.00" y1="225.20" x2="592.00" y2="357.60"/>
<line x1="587.00" y1="353.00" x2="719.90" y2="353.00"/>
<line x1="587.00" y1="328.66" x2="592.00" y2="328.66"/>
<line x1="587.00" y1="304.32" x2="592.00" y2="304.32"/>
<line x1="587.00" y1="279.98" x2="592.00" y2="279.98"/>
<line x1="587.00" y1="255.64" x2="592.00" y2="255.64"/>
<line x1="587.00" y1="231.30" x2="592.00" y2="231.30"/>
<line x1="621.20" y1="353.00" x2="621.20" y2="357.60"/>
<line x1="650.40" y1="353.00" x2="650.40" y2="357.60"/>
<line x1="679.60" y1="353.00" x2="679.60" y2="357.60"/>
<line x1="708.80" y1="353.00" x2="708.80" y2="357.60"/>
</g>
<g font-size="9.8" fill="#1c1c1c" text-anchor="end">
<text x="585.80" y="356.30">0</text>
<text x="585.80" y="331.96">20</text>
<text x="585.80" y="307.62">40</text>
<text x="585.80" y="283.28">60</text>
<text x="585.80" y="258.94">80</text>
<text x="585.80" y="234.60">100</text>
</g>
<g font-size="10.1" fill="#1c1c1c" text-anchor="middle">
<text x="592.00" y="367.70">0</text>
<text x="621.20" y="369.60">24</text>
<text x="650.40" y="369.60">48</text>
<text x="679.60" y="369.60">72</text>
<text x="708.80" y="369.60">96</text>
</g>
<text x="655.95" y="383.00" font-size="10.6" fill="#1c1c1c" text-anchor="middle">Time (hpf)</text>
<text transform="translate(565.50,289.10) rotate(-90)" font-size="10.4" fill="#1c1c1c" text-anchor="middle">Hatching Rate (%)</text>
<text x="655.95" y="219.80" font-size="12.35" fill="#1c1c1c" text-anchor="middle">Cisplatin</text>
<polyline points="650.40,353.00 679.60,353.00 708.80,353.00" fill="none" stroke="#ff0a0a" stroke-width="1.35" stroke-linejoin="round" stroke-linecap="round"/>
<rect x="589.40" y="350.40" width="5.20" height="5.20" fill="#ff0a0a"/>
<rect x="618.60" y="350.40" width="5.20" height="5.20" fill="#ff0a0a"/>
<rect x="647.80" y="350.40" width="5.20" height="5.20" fill="#ff0a0a"/>
<rect x="677.00" y="350.40" width="5.20" height="5.20" fill="#ff0a0a"/>
<rect x="706.20" y="350.40" width="5.20" height="5.20" fill="#ff0a0a"/>
<g stroke="#1a1aff" stroke-width="1"><line x1="679.60" y1="238.60" x2="679.60" y2="244.08"/><line x1="677.40" y1="244.08" x2="681.80" y2="244.08"/></g>
<polyline points="650.40,353.00 679.60,238.60 708.80,231.30" fill="none" stroke="#1a1aff" stroke-width="1.35" stroke-linejoin="round" stroke-linecap="round"/>
<polygon points="592.00,350.85 594.50,355.15 589.50,355.15" fill="#1a1aff"/>
<polygon points="621.20,350.85 623.70,355.15 618.70,355.15" fill="#1a1aff"/>
<polygon points="650.40,350.85 652.90,355.15 647.90,355.15" fill="#1a1aff"/>
<polygon points="679.60,236.45 682.10,240.75 677.10,240.75" fill="#1a1aff"/>
<polygon points="708.80,229.15 711.30,233.45 706.30,233.45" fill="#1a1aff"/>
<g stroke="#22ee22" stroke-width="1"><line x1="708.80" y1="234.95" x2="708.80" y2="243.71"/><line x1="706.60" y1="243.71" x2="711.00" y2="243.71"/></g>
<polyline points="650.40,353.00 679.60,241.40 708.80,234.95" fill="none" stroke="#22ee22" stroke-width="1.35" stroke-linejoin="round" stroke-linecap="round"/>
<polygon points="592.00,350.30 594.29,353.00 592.00,355.70 589.71,353.00" fill="#22ee22"/>
<polygon points="621.20,350.30 623.50,353.00 621.20,355.70 618.91,353.00" fill="#22ee22"/>
<polygon points="650.40,350.30 652.69,353.00 650.40,355.70 648.11,353.00" fill="#22ee22"/>
<polygon points="679.60,238.70 681.89,241.40 679.60,244.10 677.31,241.40" fill="#22ee22"/>
<polygon points="708.80,232.25 711.09,234.95 708.80,237.65 706.50,234.95" fill="#22ee22"/>
<g stroke="#ff6a1a" stroke-width="1"><line x1="679.60" y1="250.41" x2="679.60" y2="265.38"/><line x1="677.40" y1="265.38" x2="681.80" y2="265.38"/></g>
<polyline points="650.40,353.00 679.60,250.41 708.80,231.30" fill="none" stroke="#ff6a1a" stroke-width="1.35" stroke-linejoin="round" stroke-linecap="round"/>
<polygon points="592.00,355.15 594.50,350.85 589.50,350.85" fill="#ff6a1a"/>
<polygon points="621.20,355.15 623.70,350.85 618.70,350.85" fill="#ff6a1a"/>
<polygon points="650.40,355.15 652.90,350.85 647.90,350.85" fill="#ff6a1a"/>
<polygon points="679.60,252.56 682.10,248.26 677.10,248.26" fill="#ff6a1a"/>
<polygon points="708.80,233.45 711.30,229.15 706.30,229.15" fill="#ff6a1a"/>
<circle cx="592.00" cy="353.00" r="2.30" fill="#ffee00"/>
<circle cx="621.20" cy="353.00" r="2.30" fill="#ffee00"/>
<circle cx="650.40" cy="353.00" r="2.30" fill="#ffee00"/>
<circle cx="679.60" cy="236.41" r="2.30" fill="#ffee00"/>
<circle cx="708.80" cy="236.41" r="2.30" fill="#ffee00"/>
<polyline points="650.40,353.00 679.60,234.34 708.80,231.30" fill="none" stroke="#ff1a80" stroke-width="1.35" stroke-linejoin="round" stroke-linecap="round"/>
<polygon points="592.00,350.85 594.50,355.15 589.50,355.15" fill="#ff1a80"/>
<polygon points="621.20,350.85 623.70,355.15 618.70,355.15" fill="#ff1a80"/>
<polygon points="650.40,350.85 652.90,355.15 647.90,355.15" fill="#ff1a80"/>
<polygon points="679.60,232.19 682.10,236.49 677.10,236.49" fill="#ff1a80"/>
<polygon points="708.80,229.15 711.30,233.45 706.30,233.45" fill="#ff1a80"/>
<g stroke="#9a00e6" stroke-width="1"><line x1="708.80" y1="236.41" x2="708.80" y2="243.71"/><line x1="706.60" y1="243.71" x2="711.00" y2="243.71"/></g>
<polyline points="650.40,353.00 679.60,236.41 708.80,236.41" fill="none" stroke="#9a00e6" stroke-width="1.35" stroke-linejoin="round" stroke-linecap="round"/>
<rect x="589.40" y="350.40" width="5.20" height="5.20" fill="#9a00e6"/>
<rect x="618.60" y="350.40" width="5.20" height="5.20" fill="#9a00e6"/>
<rect x="647.80" y="350.40" width="5.20" height="5.20" fill="#9a00e6"/>
<rect x="677.00" y="233.81" width="5.20" height="5.20" fill="#9a00e6"/>
<rect x="706.20" y="233.81" width="5.20" height="5.20" fill="#9a00e6"/>
<polyline points="592.00,353.00 621.20,353.00 650.40,353.00 679.60,231.30 708.80,231.30" fill="none" stroke="#000000" stroke-width="1.35" stroke-linejoin="round" stroke-linecap="round"/>
<circle cx="592.00" cy="353.00" r="2.55" fill="#000000"/>
<circle cx="621.20" cy="353.00" r="2.55" fill="#000000"/>
<circle cx="650.40" cy="353.00" r="2.55" fill="#000000"/>
<circle cx="679.60" cy="231.30" r="2.55" fill="#000000"/>
<circle cx="708.80" cy="231.30" r="2.55" fill="#000000"/>
<line x1="728.00" y1="229.70" x2="741.50" y2="229.70" stroke="#000000" stroke-width="1.4"/>
<circle cx="734.80" cy="229.70" r="2.68" fill="#000000"/>
<text x="749.60" y="233.10" font-size="9" fill="#1c1c1c">Control</text>
<line x1="728.00" y1="241.57" x2="741.50" y2="241.57" stroke="#9a00e6" stroke-width="1.4"/>
<rect x="732.07" y="238.84" width="5.46" height="5.46" fill="#9a00e6"/>
<text x="749.60" y="244.97" font-size="9" fill="#1c1c1c">1.563 mg/L</text>
<line x1="728.00" y1="253.44" x2="741.50" y2="253.44" stroke="#ff1a80" stroke-width="1.4"/>
<polygon points="734.80,251.18 737.42,255.70 732.17,255.70" fill="#ff1a80"/>
<text x="749.60" y="256.84" font-size="9" fill="#1c1c1c">3.125 mg/L</text>
<line x1="728.00" y1="265.31" x2="741.50" y2="265.31" stroke="#ffee00" stroke-width="1.4"/>
<circle cx="734.80" cy="265.31" r="2.42" fill="#ffee00"/>
<text x="749.60" y="268.71" font-size="9" fill="#1c1c1c">6.25 mg/L</text>
<line x1="728.00" y1="277.18" x2="741.50" y2="277.18" stroke="#ff6a1a" stroke-width="1.4"/>
<polygon points="734.80,279.44 737.42,274.92 732.17,274.92" fill="#ff6a1a"/>
<text x="749.60" y="280.58" font-size="9" fill="#1c1c1c">12.5 mg/L</text>
<line x1="728.00" y1="289.05" x2="741.50" y2="289.05" stroke="#22ee22" stroke-width="1.4"/>
<polygon points="734.80,286.21 737.21,289.05 734.80,291.88 732.39,289.05" fill="#22ee22"/>
<text x="749.60" y="292.45" font-size="9" fill="#1c1c1c">25 mg/L</text>
<line x1="728.00" y1="300.92" x2="741.50" y2="300.92" stroke="#1a1aff" stroke-width="1.4"/>
<polygon points="734.80,298.66 737.42,303.18 732.17,303.18" fill="#1a1aff"/>
<text x="749.60" y="304.32" font-size="9" fill="#1c1c1c">50 mg/L</text>
<line x1="728.00" y1="312.79" x2="741.50" y2="312.79" stroke="#ff0a0a" stroke-width="1.4"/>
<rect x="732.07" y="310.06" width="5.46" height="5.46" fill="#ff0a0a"/>
<text x="749.60" y="316.19" font-size="9" fill="#1c1c1c">100 mg/L</text>
</svg>
</body></html>
